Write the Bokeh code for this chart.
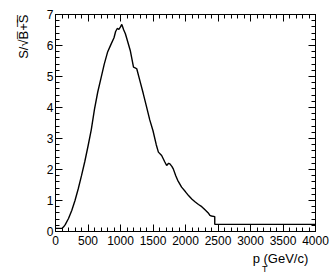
from bokeh.plotting import figure
from bokeh.models import Range1d, LinearAxis, Title, SingleIntervalTicker
from bokeh.embed import file_html
from bokeh.resources import INLINE

# S/sqrt(B+S) versus pT (GeV/c)
pt = [0, 100, 125, 150, 200, 250, 300, 350, 400, 450, 500, 550, 600, 650, 700,
      750, 800, 850, 900, 925, 950, 975, 1000, 1020, 1050, 1075, 1100, 1150,
      1200, 1225, 1250, 1300, 1350, 1400, 1450, 1500, 1550, 1583, 1633, 1680,
      1710, 1740, 1760, 1790, 1812, 1850, 1880, 1940, 2000, 2050, 2100, 2150,
      2200, 2250, 2300, 2350, 2375, 2400, 2450, 2450, 4000]
signif = [0.1, 0.1, 0.15, 0.22, 0.42, 0.68, 1.0, 1.38, 1.8, 2.25, 2.75, 3.28,
          3.95, 4.5, 4.95, 5.4, 5.78, 6.02, 6.25, 6.45, 6.55, 6.52, 6.6, 6.68,
          6.5, 6.38, 6.2, 5.84, 5.3, 5.28, 5.25, 4.85, 4.45, 4.03, 3.6, 3.25,
          2.8, 2.56, 2.45, 2.25, 2.13, 2.2, 2.18, 2.1, 2.02, 1.8, 1.65, 1.43,
          1.28, 1.15, 1.04, 0.95, 0.87, 0.8, 0.7, 0.6, 0.52, 0.5, 0.48, 0.23,
          0.23]

FONT = "Liberation Sans"

p = figure(width=332, height=276, output_backend="svg", toolbar_location=None,
           x_range=Range1d(0, 4000), y_range=Range1d(0, 7),
           min_border_left=53, min_border_right=17, min_border_top=14,
           min_border_bottom=45)
p.grid.visible = False
p.outline_line_color = "black"
p.background_fill_color = "white"
p.border_fill_color = "white"


def style(ax, labels=True):
    ax.axis_line_color = "black"
    ax.major_tick_in = 7
    ax.major_tick_out = 0
    ax.minor_tick_in = 4
    ax.minor_tick_out = 0
    ax.major_tick_line_color = "black"
    ax.minor_tick_line_color = "black"
    ax.major_label_text_font = FONT
    ax.major_label_text_font_size = "12px" if labels else "0px"
    ax.major_label_text_color = "black" if labels else None


p.xaxis.ticker = SingleIntervalTicker(interval=500, num_minor_ticks=5)
p.yaxis.ticker = SingleIntervalTicker(interval=1, num_minor_ticks=5)
style(p.xaxis[0])
style(p.yaxis[0])
p.xaxis.major_label_standoff = 4
p.yaxis.major_label_standoff = 2

top = LinearAxis(ticker=SingleIntervalTicker(interval=500, num_minor_ticks=5))
style(top, labels=False)
p.add_layout(top, "above")
right = LinearAxis(ticker=SingleIntervalTicker(interval=1, num_minor_ticks=5))
style(right, labels=False)
p.add_layout(right, "right")

p.line(pt, signif, line_color="black", line_width=1.4)

# axis titles
p.add_layout(Title(text="S/\u221aB\u0305+\u0305S\u0305", align="right",
                   text_font=FONT, text_font_size="13px", text_color="black",
                   text_font_style="normal", standoff=26, offset=0), "left")
p.add_layout(Title(text="p   (GeV/c)", align="right",
                   text_font=FONT, text_font_size="13px", text_color="black",
                   text_font_style="normal", standoff=3, offset=0), "below")
p.add_layout(Title(text="T", align="right",
                   text_font=FONT, text_font_size="9px", text_color="black",
                   text_font_style="normal", standoff=-11, offset=48), "below")

open("out.html", "w").write(file_html(p, INLINE))
